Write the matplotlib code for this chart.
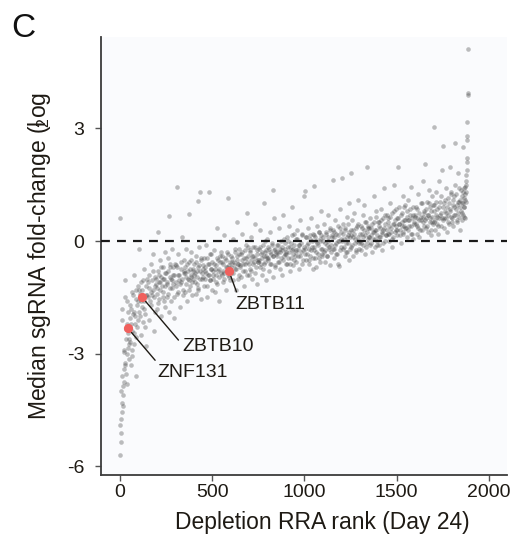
import matplotlib
matplotlib.use("Agg")
import matplotlib.pyplot as plt

plt.rcParams["font.family"] = ["Liberation Sans", "DejaVu Sans"]
plt.rcParams["axes.unicode_minus"] = False
plt.rcParams["mathtext.fontset"] = "custom"
plt.rcParams["mathtext.rm"] = "Liberation Sans"
plt.rcParams["mathtext.it"] = "Liberation Sans"

# gene rank (depletion RRA) and median sgRNA log2 fold-change
rank = [
    1, 2, 4, 6, 8, 10, 12, 14, 16, 18, 20, 22, 24, 26, 28, 31, 34, 37, 40, 43, 46, 49,
    51, 54, 58, 61, 65, 68, 72, 75, 79, 83, 86, 90, 94, 97,
    102, 105, 107, 112, 114, 118, 121, 126, 128, 132, 137, 139, 143, 148,
    153, 156, 159, 160, 166, 167, 173, 174, 180, 181, 185, 191, 195, 199,
    201, 204, 206, 208, 211, 215, 218, 222, 225, 229, 233, 236, 240, 244, 247,
    252, 255, 257, 262, 264, 266, 269, 271, 276, 278, 282, 287, 289, 293, 298,
    303, 306, 309, 310, 316, 317, 323, 324, 330, 331, 335, 341, 345, 349,
    351, 354, 358, 361, 365, 368, 372, 374, 375, 379, 383, 386, 390, 394, 397,
    402, 405, 407, 412, 414, 419, 421, 423, 426, 428, 432, 434, 437, 439, 443, 448,
    451, 454, 458, 461, 465, 468, 472, 475, 479, 483, 486, 490, 494, 497,
    502, 505, 507, 512, 514, 519, 521, 526, 528, 532, 537, 539, 543, 548,
    553, 556, 559, 560, 566, 567, 573, 574, 580, 581, 586, 590, 595, 599,
    601, 604, 608, 611, 615, 618, 622, 625, 629, 633, 636, 640, 644, 647,
    652, 655, 657, 662, 664, 669, 671, 676, 678, 682, 687, 689, 693, 698,
    703, 706, 709, 710, 716, 717, 723, 724, 730, 731, 735, 741, 745, 749,
    751, 754, 758, 761, 765, 768, 772, 775, 779, 783, 786, 790, 794, 797,
    802, 805, 807, 812, 814, 819, 821, 826, 828, 830, 832, 837, 839, 843, 848,
    853, 856, 859, 860, 866, 867, 873, 874, 880, 881, 885, 891, 895, 899,
    901, 904, 908, 911, 915, 918, 922, 925, 929, 933, 936, 940, 944, 947,
    952, 955, 957, 962, 964, 969, 971, 976, 978, 982, 987, 989, 993, 998,
    1003, 1006, 1009, 1010, 1016, 1017, 1023, 1024, 1030, 1031, 1035, 1041, 1045, 1047, 1049,
    1051, 1052, 1054, 1058, 1061, 1065, 1068, 1072, 1075, 1079, 1083, 1086, 1090, 1094, 1097,
    1102, 1105, 1107, 1112, 1114, 1119, 1121, 1126, 1128, 1132, 1137, 1139, 1143, 1148,
    1153, 1155, 1156, 1159, 1160, 1166, 1167, 1173, 1174, 1180, 1181, 1185, 1188, 1191, 1195, 1199,
    1201, 1204, 1208, 1211, 1215, 1218, 1222, 1225, 1229, 1233, 1236, 1240, 1244, 1247,
    1252, 1253, 1255, 1257, 1262, 1264, 1269, 1271, 1276, 1278, 1282, 1287, 1289, 1293, 1298,
    1303, 1306, 1309, 1310, 1316, 1317, 1323, 1324, 1330, 1331, 1335, 1340, 1341, 1345, 1349,
    1351, 1354, 1358, 1361, 1365, 1368, 1372, 1375, 1379, 1383, 1386, 1390, 1394, 1397,
    1402, 1405, 1407, 1412, 1414, 1419, 1421, 1426, 1428, 1432, 1437, 1439, 1443, 1448,
    1453, 1456, 1459, 1460, 1466, 1467, 1473, 1474, 1480, 1481, 1485, 1491, 1495, 1499,
    1501, 1504, 1508, 1511, 1515, 1518, 1522, 1525, 1529, 1533, 1536, 1540, 1544, 1547,
    1552, 1555, 1557, 1562, 1564, 1569, 1571, 1576, 1578, 1582, 1587, 1589, 1593, 1598,
    1603, 1606, 1609, 1610, 1616, 1617, 1623, 1624, 1630, 1631, 1635, 1641, 1645, 1649,
    1651, 1654, 1658, 1661, 1665, 1668, 1672, 1675, 1679, 1683, 1686, 1690, 1694, 1697,
    1701, 1703, 1705, 1707, 1712, 1714, 1719, 1721, 1726, 1728, 1732, 1737, 1739, 1743, 1748,
    1752, 1753, 1756, 1759, 1760, 1766, 1767, 1773, 1774, 1780, 1781, 1785, 1790, 1791, 1795, 1799,
    1802, 1805, 1808, 1811, 1815, 1817, 1818, 1822, 1825, 1829, 1833, 1836, 1840, 1844, 1847,
    1851, 1853, 1856, 1858, 1860, 1862, 1865, 1867, 1869, 1871, 1873, 1875, 1876, 1877, 1878,
    1879, 1880, 1881, 1882, 1883, 1884, 1885, 1886, 1887,
    # second pass through the denser part of the cloud
    3, 5, 9, 13, 17, 21, 25, 29, 33, 38, 41, 45, 48, 53, 56, 60, 63, 67, 70, 74, 77, 81, 85, 88, 92, 96, 99,
    103, 110, 116, 124, 130, 135, 141, 146,
    154, 162, 170, 177, 184, 188, 193, 197,
    203, 210, 213, 220, 224, 231, 235, 238, 242, 246,
    253, 260, 263, 270, 274, 281, 285, 288, 292, 296,
    302, 308, 313, 320, 326, 333, 338, 343, 347,
    353, 360, 363, 370, 377, 381, 385, 388, 392, 396,
    403, 410, 416, 420, 424, 430, 436, 441, 445,
    453, 460, 463, 470, 474, 481, 485, 488, 492, 496,
    503, 510, 516, 520, 524, 530, 535, 541, 546,
    552, 558, 563, 570, 577, 584, 588, 593, 597,
    603, 610, 613, 620, 624, 631, 635, 638, 642, 646,
    653, 660, 666, 673, 680, 685, 691, 696,
    702, 708, 713, 720, 726, 733, 738, 743, 747,
    753, 760, 763, 770, 777, 781, 785, 788, 792, 796,
    803, 810, 816, 823, 830, 835, 841, 846,
    852, 858, 863, 870, 877, 884, 888, 893, 897,
    903, 910, 913, 920, 924, 931, 935, 938, 942, 946,
    953, 960, 966, 973, 980, 985, 991, 996,
    1002, 1008, 1013, 1020, 1026, 1033, 1038, 1043,
    1053, 1060, 1063, 1070, 1077, 1081, 1085, 1088, 1092, 1096,
    1103, 1110, 1116, 1120, 1124, 1130, 1135, 1141, 1146,
    1152, 1158, 1163, 1170, 1177, 1184, 1189, 1193, 1197,
    1203, 1210, 1213, 1220, 1227, 1231, 1235, 1238, 1242, 1246,
    1254, 1260, 1266, 1273, 1280, 1285, 1291, 1296,
    1302, 1308, 1313, 1320, 1327, 1334, 1338, 1343, 1347,
    1353, 1360, 1363, 1370, 1377, 1381, 1385, 1388, 1392, 1396,
    1403, 1410, 1416, 1420, 1424, 1430, 1435, 1441, 1446,
    1452, 1458, 1463, 1470, 1477, 1484, 1488, 1493, 1497,
    1503, 1510, 1513, 1520, 1527, 1531, 1535, 1538, 1542, 1546,
    1554, 1560, 1566, 1573, 1580, 1585, 1591, 1596,
    1602, 1608, 1613, 1620, 1627, 1634, 1638, 1643, 1647,
    1653, 1660, 1663, 1670, 1677, 1681, 1685, 1688, 1692, 1696,
    1704, 1710, 1716, 1720, 1724, 1730, 1735, 1741, 1746,
    1754, 1758, 1763, 1770, 1777, 1784, 1788, 1793, 1797,
    1803, 1810, 1813, 1820, 1827, 1831, 1835, 1838, 1842, 1846,
    1852, 1855, 1859, 1863, 1866, 1868, 1870, 1874,
]
lfc = [
    -5.7, 0.62, -5.35, -4.75, -5.1, -4.3, -4.55, -1.8, -3.85, -4.1, -3.4, -3.75, -2.9, -1.05, -3.25, -2.6, -3.55, -2.2, -3.0, -2.45, -1.9, -2.75,
    -2.6, -1.7, -3.3, -2.2, -1.35, -2.9, -1.95, -2.45, -0.9, -2.0, -3.6, -1.55, -2.3, -1.2,
    -0.2, -1.9, -1.4, -2.5, -1.1, -1.75, -1.3, -2.15, -0.75, -1.6, -1.95, -1.2, -2.8, -1.45,
    -1.5, -0.9, -2.1, -1.25, -0.6, -1.7, -1.05, -1.45, -0.35, -1.3, -2.4, -0.95, -1.15, -1.8,
    -1.4, -0.8, 0.24, -1.65, -1.1, -0.5, -1.3, -0.95, -2.0, -1.2, -0.7, -1.5, -1.0, -0.3, -1.75,
    -0.85, -1.5, -1.1, -0.45, -1.9, 0.67, -1.25, -0.7, -1.0, -1.6, -0.2, -1.15, -0.9, -2.05, -0.6,
    -1.2, -0.65, 1.44, -1.4, -0.9, -0.35, -1.05, -1.75, -0.75, -1.1, 0.1, -1.3, -0.85, -0.5,
    -0.7, -1.35, -0.95, -0.2, -1.6, -0.8, -1.05, 0.72, -0.55, -1.2, -0.9, -0.3, -1.45, -0.75, -1.0,
    -0.6, -1.1, -0.85, -1.4, -0.4, -0.95, -0.7, 1.06, -1.25, -0.15, -0.8, 1.3, -1.55, -0.5, -1.0, -0.75,
    -0.95, -0.45, -1.2, -0.7, -0.1, -0.85, -1.5, -0.6, -0.9, 1.3, -0.35, -1.05, -0.75, -1.3,
    -0.55, -1.0, -0.8, -0.25, -1.35, -0.65, -0.9, 0.35, -1.15, -0.5, -0.75, -1.6, -0.4, -0.85,
    -0.9, -0.4, -1.1, -0.6, 0.15, -0.85, -0.5, -1.3, -0.7, -0.3, 1.15, -0.95, -0.55, -0.75,
    -0.4, -0.85, -0.55, 0.05, -1.05, -0.65, -0.3, -0.75, -1.3, -0.5, 0.5, -0.6, -0.9, -0.2,
    -0.7, -0.35, -0.95, -0.5, 0.2, -0.6, -1.2, -0.25, -0.8, -0.45, 0.75, -0.55, -0.15, -0.9,
    -0.3, -0.75, -0.5, 0.1, -1.0, -0.4, -0.6, -0.15, -0.85, 0.45, -0.45, -1.15, -0.25, -0.55,
    -0.55, -0.2, -0.7, 0.3, -0.35, -0.9, -0.45, -0.1, 1.0, -0.6, -0.3, -1.05, -0.4, 0.05,
    -0.5, -0.15, -0.8, -0.3, 0.25, -0.6, -0.35, -0.05, -0.95, 1.36, -0.4, 0.6, -0.2, -0.7, -0.3,
    -0.1, -0.55, -0.3, 0.35, -0.75, -0.2, -0.45, 0.0, -0.9, -0.25, 0.7, -0.4, -0.05, -0.6,
    -0.35, 0.1, -0.6, -0.15, 0.4, -0.3, -0.8, -0.05, -0.45, 0.9, -0.2, -0.65, 0.2, -0.4,
    -0.3, 0.05, -0.55, 0.3, -0.2, -0.75, -0.1, 0.55, -0.4, -0.05, -0.6, 0.15, -0.25, 1.2,
    1.33, -0.35, 0.1, -0.5, -0.1, 0.35, -0.6, -0.2, 0.05, -0.4, 0.6, -0.15, -0.45, -0.75, 0.2,
    -0.25, 1.46, 0.15, -0.45, 0.0, -0.7, 0.4, -0.1, -0.35, 0.25, -0.55, 0.05, 0.8, -0.2, -0.4,
    0.1, -0.3, 0.45, -0.55, -0.05, 0.25, -0.4, 0.0, 0.7, -0.2, -0.65, 0.3, -0.1, 0.15,
    -0.2, 1.62, 0.3, -0.45, 0.1, -0.1, 0.55, -0.35, 0.2, -0.6, 0.0, 0.4, -0.66, -0.25, 0.85, 0.05,
    0.25, 1.68, -0.2, 0.45, 0.05, -0.4, 0.3, -0.05, 0.65, -0.3, 0.15, 1.0, -0.5, 0.1,
    0.3, 1.8, -0.15, 0.55, 0.1, -0.4, 0.2, 0.75, -0.05, 0.35, -0.3, 0.0, 1.1, 0.45, -0.2,
    0.0, 0.4, -0.25, 0.2, 0.7, -0.1, 0.3, 0.95, -0.35, 0.15, 0.5, 1.97, -0.05, 0.35, 0.1,
    0.35, -0.1, 0.6, 0.15, -0.3, 0.45, 0.05, 1.2, 0.25, -0.15, 0.8, 0.3, 0.0, 0.5,
    0.1, 0.5, -0.1, 0.35, 0.85, 0.2, -0.25, 0.6, 0.3, 1.4, 0.0, 0.45, 0.15, 0.7,
    0.2, 0.6, 0.0, 0.4, 1.0, 0.25, 0.75, -0.15, 0.45, 0.1, 1.5, 0.55, 0.3, 0.85,
    0.6, 0.15, 1.97, 0.45, 0.9, 0.3, -0.05, 0.7, 0.4, 1.2, 0.2, 0.55, 0.95, 0.35,
    0.35, 0.8, 0.1, 0.55, 1.1, 0.4, 0.7, 0.2, 1.45, 0.6, 0.05, 0.9, 0.45, 0.65,
    0.45, 0.9, 0.2, 0.6, 1.25, 0.35, 0.75, 0.1, 0.55, 1.0, 0.3, 1.6, 0.65, 0.4,
    0.8, 2.05, 0.35, 0.6, 1.05, 0.25, 0.7, 1.35, 0.5, 0.9, 0.15, 0.65, 1.2, 0.45,
    0.5, 3.04, 0.95, 0.3, 0.7, 1.3, 0.45, 0.85, 0.2, 1.6, 0.6, 1.05, 0.4, 0.75, 1.9,
    2.53, 0.55, 1.0, 0.35, 0.8, 1.4, 0.6, 0.9, 0.25, 1.15, 0.7, 0.45, 1.97, 0.85, 1.25, 0.5,
    0.6, 1.1, 0.4, 0.9, 1.5, 2.61, 0.7, 1.25, 0.5, 0.95, 1.8, 0.65, 1.05, 0.3, 1.35,
    0.8, 1.2, 0.55, 1.0, 2.5, 0.7, 1.4, 0.9, 1.1, 0.6, 1.25, 1.3, 1.5, 1.6, 1.75,
    1.89, 2.1, 2.21, 2.7, 2.8, 3.17, 3.9, 3.94, 5.11,
    # second pass
    -4.9, -4.0, -3.6, -2.1, -4.4, -2.95, -3.3, -1.5, -2.35, -3.8, -1.6, -2.85, -3.15, -2.05, -2.7, -1.8, -3.05, -2.4, -1.45, -2.75, -1.9, -2.2, -1.3, -2.55, -1.7, -2.1, -1.6,
    -1.3, -2.0, -1.6, -1.05, -1.8, -2.3, -1.45, -1.0,
    -1.1, -1.6, -1.35, -0.8, -1.5, -1.2, -1.9, -1.0,
    -1.25, -0.9, -1.55, -1.1, -0.7, -1.35, -1.0, -1.6, -0.85, -1.2,
    -1.15, -0.8, -1.4, -0.95, -0.6, -1.25, -1.05, -0.7, -1.5, -0.9,
    -1.1, -0.7, -1.35, -0.9, -1.15, -0.55, -1.0, -1.45, -0.8,
    -0.85, -1.15, -0.6, -1.0, -1.3, -0.75, -0.95, -0.5, -1.1, -0.8,
    -0.9, -0.55, -1.15, -0.8, -1.3, -0.65, -1.0, -0.45, -0.85,
    -0.65, -1.0, -0.8, -0.45, -1.2, -0.9, -0.6, -1.05, -0.75, -0.35,
    -0.9, -0.6, -0.75, -1.1, -0.45, -0.8, -0.95, -0.55, -0.3,
    -0.55, -0.8, -1.0, -0.45, -0.7, -0.9, -0.35, -0.65, -1.05,
    -0.7, -0.45, -0.85, -0.55, -0.2, -0.75, -0.4, -1.0, -0.6, -0.35,
    -0.65, -0.3, -0.8, -0.45, -0.6, -0.1, -0.9, -0.4,
    -0.6, -0.25, -0.8, -0.4, -0.55, -0.15, -0.7, -0.35, -0.5,
    -0.5, -0.15, -0.6, -0.3, -0.75, -0.4, 0.0, -0.55, -0.25, -0.45,
    -0.45, -0.2, -0.6, -0.1, -0.4, -0.25, -0.65, -0.35,
    -0.4, -0.1, -0.55, -0.3, -0.15, -0.5, 0.05, -0.35, -0.2,
    -0.3, 0.0, -0.45, -0.15, -0.6, -0.25, 0.15, -0.35, -0.1, -0.5,
    -0.25, 0.05, -0.4, -0.1, -0.3, 0.2, -0.5, -0.15,
    -0.2, 0.1, -0.35, -0.05, -0.5, 0.15, -0.25, 0.0,
    -0.15, 0.1, -0.3, -0.05, 0.25, -0.45, 0.0, -0.2, 0.15, -0.35,
    0.0, -0.25, 0.2, -0.1, -0.4, 0.1, -0.15, 0.35, -0.3,
    0.1, -0.2, 0.25, -0.05, -0.35, 0.15, 0.0, 0.35, -0.15,
    0.0, 0.2, -0.15, 0.35, -0.3, 0.1, 0.45, -0.05, 0.25, -0.2,
    0.15, -0.1, 0.3, 0.05, -0.25, 0.4, 0.1, -0.05,
    0.2, -0.05, 0.35, 0.1, 0.5, -0.15, 0.25, 0.05, 0.4,
    0.1, 0.35, -0.05, 0.25, 0.5, 0.05, 0.3, 0.65, 0.15, -0.1,
    0.4, 0.1, 0.55, 0.25, -0.05, 0.35, 0.7, 0.15, 0.3,
    0.5, 0.2, 0.65, 0.35, 0.05, 0.45, 0.8, 0.25, 0.4,
    0.3, 0.6, 0.45, 0.15, 0.75, 0.5, 0.25, 0.9, 0.4, 0.55,
    0.65, 0.3, 0.55, 0.85, 0.4, 0.2, 0.7, 0.5,
    0.7, 0.4, 0.85, 0.55, 0.3, 0.65, 1.0, 0.5, 0.75,
    0.55, 0.85, 0.4, 0.7, 1.0, 0.6, 0.3, 0.8, 0.5, 0.95,
    0.8, 0.55, 1.05, 0.65, 0.4, 0.9, 0.7, 1.2, 0.6,
    0.9, 0.6, 1.1, 0.75, 0.5, 1.0, 0.8, 1.3, 0.65,
    0.95, 0.7, 1.2, 0.85, 0.55, 1.05, 0.75, 1.4, 0.9, 1.1,
    1.0, 0.75, 1.3, 0.9, 1.15, 0.65, 1.45, 1.05,
]

# highlighted hits
hit_genes = ["ZNF131", "ZBTB10", "ZBTB11"]
hit_rank = [43, 119, 591]
hit_lfc = [-2.32, -1.49, -0.80]
# label offsets in points and where the leader meets the text
hit_offset = [(21, -32), (29, -36), (4.5, -24)]
hit_relpos = [(0.03, 0.95), (-0.02, 0.75), (0.04, 1.0)]

if len(rank) != len(lfc):
    raise ValueError(f"rank/lfc length mismatch: {len(rank)} vs {len(lfc)}")

fig = plt.figure(figsize=(5.31, 5.42), dpi=100)
ax = fig.add_axes([0.190, 0.1236, 0.765, 0.808])
ax.set_facecolor("#fafbfd")

ax.scatter(rank, lfc, s=11, color="#3a3a3a", alpha=0.33, linewidths=0, zorder=2)
ax.axhline(0, color="#1a1a1a", lw=1.6, ls=(0, (4, 3.2)), zorder=3)
ax.scatter(hit_rank, hit_lfc, s=44, color="#f0605d", linewidths=0, zorder=4)

for gene, x, y, off, rp in zip(hit_genes, hit_rank, hit_lfc, hit_offset, hit_relpos):
    ax.annotate(gene, xy=(x, y), xytext=off, textcoords="offset points",
                ha="left", va="center", fontsize=14, color="#1e1a14",
                arrowprops=dict(arrowstyle="-", color="#1e1a14", lw=1.0,
                                shrinkA=1, shrinkB=4, relpos=rp))

ax.set_xlim(-103, 2099)
ax.set_ylim(-6.23, 5.43)
ax.set_xticks([0, 500, 1000, 1500, 2000])
ax.set_yticks([-6, -3, 0, 3])

for side in ["top", "right"]:
    ax.spines[side].set_visible(False)
for side in ["left", "bottom"]:
    ax.spines[side].set_color("#3c3c3c")
    ax.spines[side].set_linewidth(1.3)

ax.tick_params(axis="x", length=4, width=1, color="#555555", pad=2.5,
               labelsize=14, labelcolor="#1e1a14")
ax.tick_params(axis="y", length=4, width=1, color="#555555", pad=8,
               labelsize=14, labelcolor="#1e1a14")

ax.set_xlabel("Depletion RRA rank (Day 24)", fontsize=16.5, color="#1e1a14")
ax.xaxis.set_label_coords(0.544, -0.082)
ax.set_ylabel(r"Median sgRNA fold-change (l$\!\!_2$og", fontsize=16.5, color="#1e1a14")
ax.yaxis.set_label_coords(-0.118, 0.50)

fig.text(0.021, 0.9317, "C", fontsize=24, va="baseline", ha="left", color="#111111")

fig.savefig("out.png", dpi=100, facecolor="white")
